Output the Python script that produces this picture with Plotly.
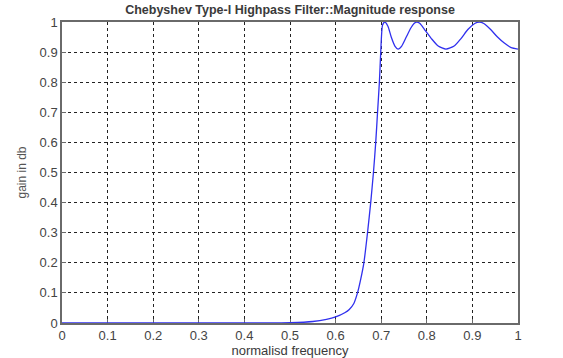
import plotly.graph_objects as go

# Values
freq = [0.0, 0.45, 0.5, 0.55, 0.58, 0.6, 0.62, 0.63, 0.64, 0.648, 0.655, 0.662,
        0.67, 0.677, 0.683, 0.688, 0.692, 0.696, 0.699, 0.703, 0.708, 0.715,
        0.722, 0.73, 0.737, 0.745, 0.755, 0.765, 0.772, 0.778, 0.785, 0.795,
        0.81, 0.825, 0.842, 0.86, 0.875, 0.89, 0.905, 0.915, 0.925, 0.94,
        0.955, 0.97, 0.985, 1.0]
gain = [0.0, 0.0, 0.001, 0.005, 0.012, 0.02, 0.034, 0.045, 0.065, 0.1, 0.145, 0.2,
        0.3, 0.4, 0.5, 0.6, 0.7, 0.8, 0.9, 0.99, 1.0, 0.985,
        0.95, 0.92, 0.91, 0.92, 0.95, 0.98, 0.995, 1.0, 0.995, 0.975,
        0.945, 0.92, 0.91, 0.92, 0.945, 0.975, 0.995, 1.0, 0.995, 0.975,
        0.95, 0.93, 0.915, 0.91]

x_ticks = [0, 0.1, 0.2, 0.3, 0.4, 0.5, 0.6, 0.7, 0.8, 0.9, 1]
x_tick_text = ["0", "0.1", "0.2", "0.3", "0.4", "0.5", "0.6", "0.7", "0.8", "0.9", "1"]
y_ticks = [0, 0.1, 0.2, 0.3, 0.4, 0.5, 0.6, 0.7, 0.8, 0.9, 1]
y_tick_text = ["0", "0.1", "0.2", "0.3", "0.4", "0.5", "0.6", "0.7", "0.8", "0.9", "1"]

title_text = "Chebyshev Type-I Highpass Filter::Magnitude response"
x_title = "normalisd frequency"
y_title = "gain in db"

FAM = "Liberation Sans, Arial, sans-serif"

fig = go.Figure()
fig.add_trace(go.Scatter(
    x=freq, y=gain, mode="lines",
    line=dict(color="#3030ee", width=1.3, shape="spline", smoothing=0.6),
    cliponaxis=False, showlegend=False, hoverinfo="skip",
))

axis_common = dict(
    showgrid=True, gridcolor="#222222", gridwidth=1, griddash="3px,3px",
    showline=True, linecolor="#6a6a6a", linewidth=1.5, mirror=True,
    zeroline=False, ticks="inside", ticklen=4, tickcolor="#6a6a6a",
    tickfont=dict(family=FAM, size=13, color="#444444"),
    layer="below traces", automargin=False,
)

fig.update_layout(
    width=563, height=358,
    margin=dict(l=62, r=45, t=22, b=35),
    paper_bgcolor="white", plot_bgcolor="white",
    font=dict(family=FAM, size=12, color="#444444"),
    title=dict(text="<b>" + title_text + "</b>", x=(62 + 518) / 2 / 563, xanchor="center",
               y=1 - 10 / 358, yanchor="middle",
               font=dict(family=FAM, size=12.5, color="#3a3a3a")),
    xaxis=dict(range=[0, 1], tickvals=x_ticks, ticktext=x_tick_text,
               title=dict(text=x_title, standoff=0,
                          font=dict(family=FAM, size=13, color="#3a3a3a")),
               **axis_common),
    yaxis=dict(range=[0, 1], tickvals=y_ticks, ticktext=y_tick_text,
               title=dict(text=y_title, standoff=10,
                          font=dict(family=FAM, size=12, color="#555555")),
               **axis_common),
)

fig.write_html("out.html", config={"displayModeBar": False},
               post_script="document.body.style.margin='0';")
